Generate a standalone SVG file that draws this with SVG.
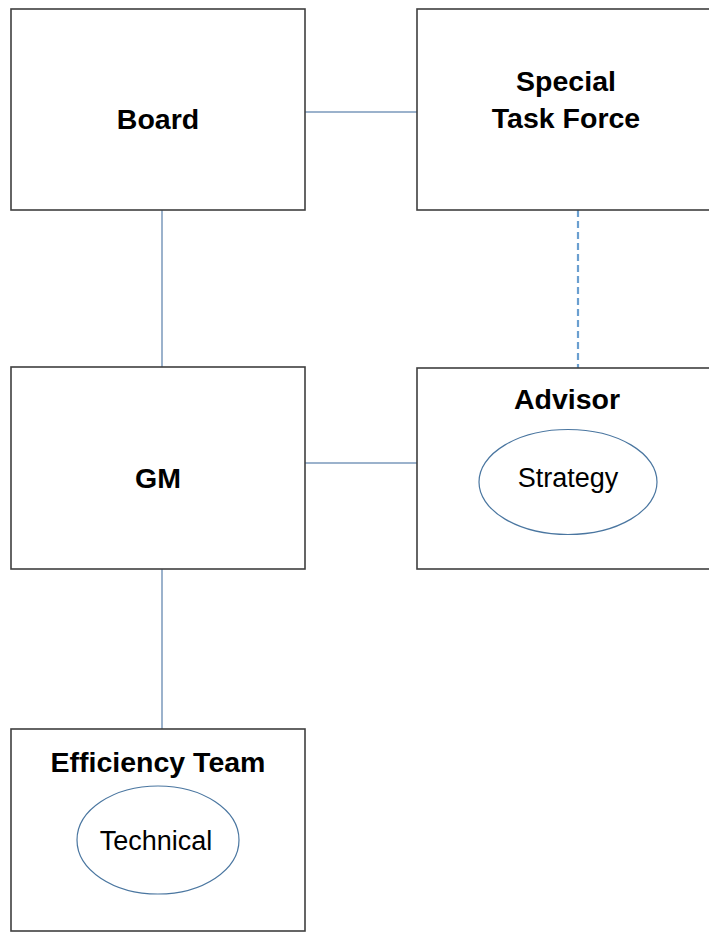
<svg xmlns="http://www.w3.org/2000/svg" width="709" height="933" viewBox="0 0 709 933">
<style>
.box{fill:#ffffff;stroke:#3f3f3f;stroke-width:1.6}
.oval{fill:#ffffff;stroke:#4a76a0;stroke-width:1.2}
.conn{stroke:#9bb2cc;stroke-width:2;fill:none}
.dash{stroke:#6a9fd0;stroke-width:2.2;stroke-dasharray:7 4;fill:none}
.t{font-family:"Liberation Sans",Arial,sans-serif;font-weight:bold;font-size:28.5px;fill:#000;text-anchor:middle}
.r{font-family:"Liberation Sans",Arial,sans-serif;font-size:27px;fill:#000;text-anchor:middle}
</style>
<rect width="709" height="933" fill="#ffffff"/>
<g id="connectors">
<line class="conn" x1="305" y1="112" x2="417" y2="112"/>
<line class="conn" x1="162" y1="210" x2="162" y2="367"/>
<line class="dash" x1="578" y1="210" x2="578" y2="368"/>
<line class="conn" x1="305" y1="463" x2="417" y2="463"/>
<line class="conn" x1="162" y1="569" x2="162" y2="729"/>
</g>
<g id="board">
<rect class="box" x="11" y="9" width="294" height="201"/>
<text class="t" x="158" y="129">Board</text>
</g>
<g id="taskforce">
<rect class="box" x="417" y="9" width="296" height="201"/>
<text class="t" x="566" y="91">Special</text>
<text class="t" x="566" y="128">Task Force</text>
</g>
<g id="gm">
<rect class="box" x="11" y="367" width="294" height="202"/>
<text class="t" x="158" y="488">GM</text>
</g>
<g id="advisor">
<rect class="box" x="417" y="368" width="296" height="201"/>
<text class="t" x="567" y="409">Advisor</text>
<ellipse class="oval" cx="568" cy="482" rx="89" ry="52.5"/>
<text class="r" x="568" y="487">Strategy</text>
</g>
<g id="efficiency">
<rect class="box" x="11" y="729" width="294" height="202"/>
<text class="t" x="158" y="772">Efficiency Team</text>
<ellipse class="oval" cx="158" cy="840" rx="81" ry="54"/>
<text class="r" x="156" y="850">Technical</text>
</g>
</svg>
